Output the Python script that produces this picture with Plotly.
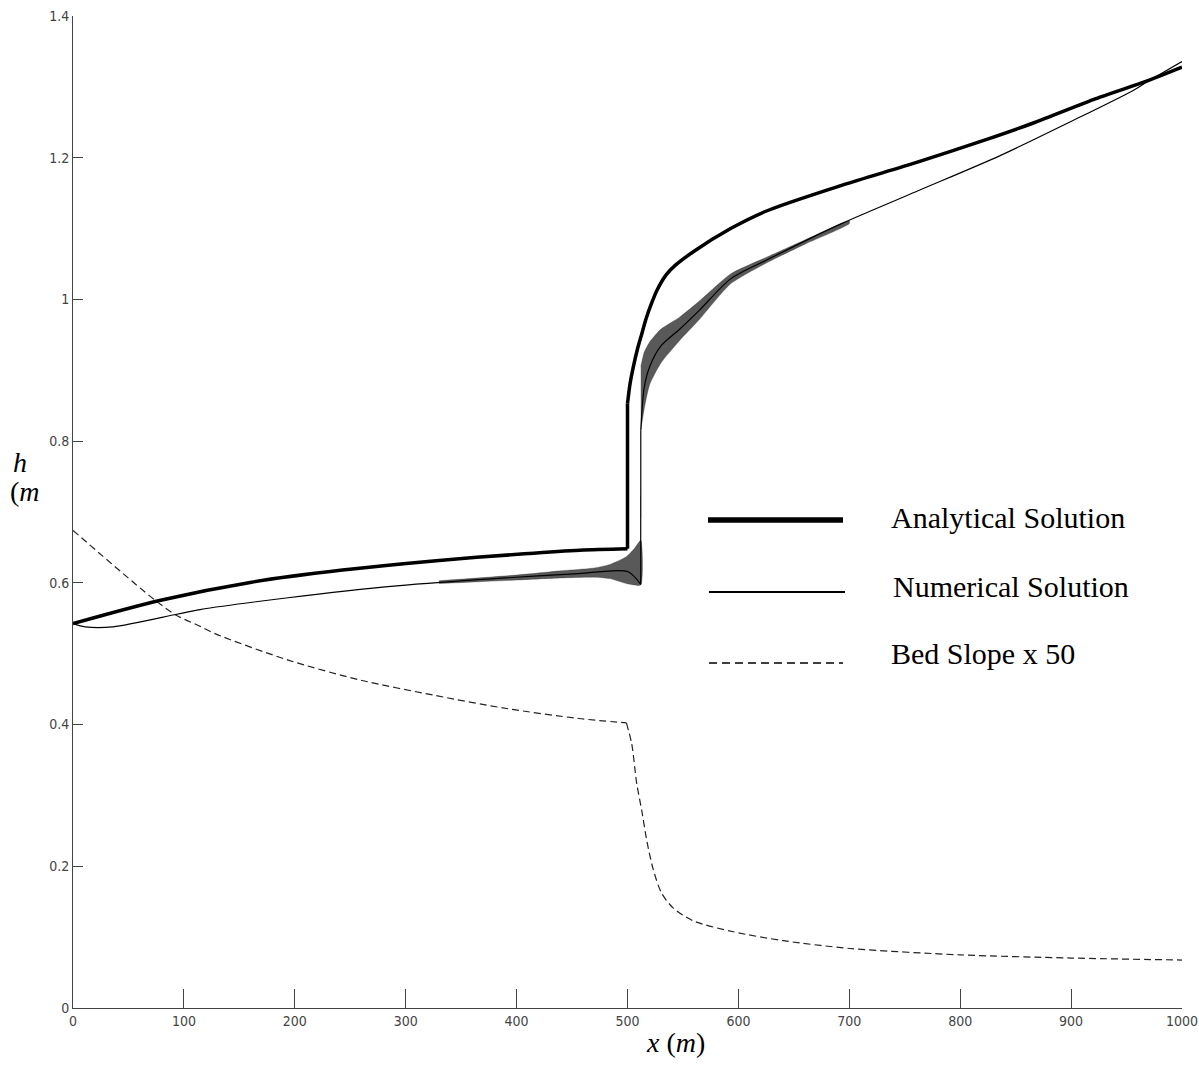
import plotly.graph_objects as go

# ---- data -------------------------------------------------------------
# Analytical solution h(x)
ana_x = [0, 79, 161, 243, 325, 407, 457, 500, 500, 502.3, 505.2, 509, 512.8,
         516.6, 521.8, 526.6, 535, 543, 560, 593, 626.5, 693, 760, 826, 866,
         926, 968, 1000]
ana_h = [0.5426, 0.5755, 0.601, 0.618, 0.631, 0.641, 0.646, 0.648, 0.853,
         0.881, 0.9045, 0.930, 0.951, 0.972, 0.995, 1.013, 1.035, 1.048,
         1.068, 1.100, 1.1255, 1.161, 1.193, 1.227, 1.249, 1.2854, 1.308,
         1.3277]
ana_breaks = [7, 8]          # vertical jump between these indices

# Numerical solution h(x), mean path
num_x = [0, 11, 36, 93.5, 114.5, 194, 292, 390, 456, 500, 511.9, 512, 515,
         520, 530, 547, 565, 593, 626, 693, 760, 836, 901.7, 956, 968, 1000]
num_h = [0.5426, 0.538, 0.538, 0.5557, 0.5623, 0.579, 0.5957, 0.607, 0.613,
         0.616, 0.598, 0.815, 0.875, 0.905, 0.934, 0.958, 0.985, 1.029,
         1.056, 1.107, 1.152, 1.203, 1.2525, 1.295, 1.3065, 1.3357]
num_breaks = [10, 11]

# Oscillation envelope of the numerical solution, upstream of the jump
osc_up_x = [330, 400, 440, 470, 484, 499, 506, 512]
osc_up_hi = [0.603, 0.611, 0.617, 0.621, 0.626, 0.637, 0.648, 0.660]
osc_up_lo = [0.599, 0.604, 0.607, 0.608, 0.606, 0.599, 0.597, 0.597]

# Oscillation envelope downstream of the jump
osc_dn_x = [512, 515, 520, 530, 547, 565, 593, 626, 660, 700]
osc_dn_hi = [0.905, 0.925, 0.940, 0.958, 0.975, 0.998, 1.036, 1.060, 1.084, 1.111]
osc_dn_lo = [0.815, 0.845, 0.880, 0.910, 0.942, 0.972, 1.022, 1.052, 1.078, 1.107]

# Bed slope scaled by 50
bed_x = [0, 74, 93.5, 114.5, 128.5, 194, 259.7, 325.2, 390.8, 456, 499,
         503.8, 508.3, 512.8, 517.3, 523.3, 530.8, 541.3, 559.3, 595.4,
         640.5, 700.6, 800, 900, 1000]
bed_h = [0.674, 0.5755, 0.554, 0.5388, 0.528, 0.491, 0.4626, 0.4415, 0.4227,
         0.4086, 0.4024, 0.373, 0.317, 0.279, 0.237, 0.195, 0.162, 0.141,
         0.123, 0.1076, 0.095, 0.084, 0.075, 0.0705, 0.0677]
bed_breaks = [10]

x_ticks = [0, 100, 200, 300, 400, 500, 600, 700, 800, 900, 1000]
x_tick_text = ["0", "100", "200", "300", "400", "500", "600", "700", "800", "900", "1000"]
y_ticks = [0, 0.2, 0.4, 0.6, 0.8, 1.0, 1.2, 1.4]
y_tick_text = ["0", "0.2", "0.4", "0.6", "0.8", "1", "1.2", "1.4"]

legend_names = ["Analytical Solution", "Numerical Solution", "Bed Slope x 50"]

# ---- layout geometry (pixels) ------------------------------------------
W, H = 1199, 1076
ML, MR, MT, MB = 73, 17, 16, 68
PW, PH = W - ML - MR, H - MT - MB


def px(xp):
    return (xp - ML) / PW


def py(yp):
    return (H - MB - yp) / PH


tick_font = dict(family="Liberation Sans Narrow, Arial Narrow, DejaVu Sans Condensed, sans-serif",
                 size=14, color="#444444")
serif = "Liberation Serif, Times New Roman, serif"

fig = go.Figure()


def add_series(xs, ys, breaks, line, name):
    """Draw a curve as smooth pieces, keeping the corners at the break indices sharp."""
    cuts = [0] + breaks + [len(xs) - 1]
    for a, b in zip(cuts[:-1], cuts[1:]):
        seg_x, seg_y = xs[a:b + 1], ys[a:b + 1]
        fig.add_trace(go.Scatter(
            x=seg_x, y=seg_y, mode="lines", name=name, showlegend=False,
            line=dict(line, shape="spline" if len(seg_x) > 2 else "linear", smoothing=0.8)))


# oscillation bands of the numerical scheme
for bx, hi, lo in [(osc_up_x, osc_up_hi, osc_up_lo), (osc_dn_x, osc_dn_hi, osc_dn_lo)]:
    fig.add_trace(go.Scatter(
        x=bx + bx[::-1], y=hi + lo[::-1], mode="lines", fill="toself",
        fillcolor="rgba(25,25,25,0.72)", line=dict(color="rgba(25,25,25,0.5)", width=0.6,
                                                  shape="spline", smoothing=0.6),
        hoverinfo="skip", showlegend=False))

add_series(bed_x, bed_h, bed_breaks, dict(color="#222222", width=1.2, dash="7px,4px"), legend_names[2])
add_series(num_x, num_h, num_breaks, dict(color="black", width=1.2), legend_names[1])
add_series(ana_x, ana_h, ana_breaks, dict(color="black", width=3.5), legend_names[0])

# hand-placed legend: sample line followed by label
legend_rows = [
    (708, 843, 520, dict(color="black", width=5.5), 889, 517),
    (709, 845, 592, dict(color="black", width=2), 891, 586),
    (709, 843, 663, dict(color="black", width=1.5, dash="8px,5px"), 889, 653),
]
for (x0, x1, yl, lstyle, xt, yt), name in zip(legend_rows, legend_names):
    fig.add_shape(type="line", xref="paper", yref="paper",
                  x0=px(x0), x1=px(x1), y0=py(yl), y1=py(yl), line=lstyle)
    fig.add_annotation(xref="paper", yref="paper", x=px(xt), y=py(yt),
                       xanchor="left", yanchor="middle", showarrow=False,
                       text=name, font=dict(family=serif, size=30, color="black"))

# axis titles
fig.add_annotation(xref="paper", yref="paper", x=px(675), y=py(1042),
                   xanchor="center", yanchor="middle", showarrow=False,
                   text="<i>x</i> (<i>m</i>)", font=dict(family=serif, size=28, color="black"))
fig.add_annotation(xref="paper", yref="paper", x=px(11), y=py(462),
                   xanchor="left", yanchor="middle", showarrow=False,
                   text="<i>h</i>", font=dict(family=serif, size=28, color="black"))
fig.add_annotation(xref="paper", yref="paper", x=px(8), y=py(491),
                   xanchor="left", yanchor="middle", showarrow=False,
                   text="(<i>m</i>", font=dict(family=serif, size=28, color="black"))

fig.update_layout(
    width=W, height=H,
    margin=dict(l=ML, r=MR, t=MT, b=MB, autoexpand=False),
    paper_bgcolor="white", plot_bgcolor="white",
    showlegend=False,
    xaxis=dict(range=[0, 1000], tickvals=x_ticks, ticktext=x_tick_text,
               ticks="inside", ticklen=19, tickwidth=1, tickcolor="#444444",
               showline=True, linecolor="#444444", linewidth=1, automargin=False,
               showgrid=False, zeroline=False, tickfont=tick_font),
    yaxis=dict(range=[0, 1.4], tickvals=y_ticks, ticktext=y_tick_text,
               ticks="inside", ticklen=10, tickwidth=1, tickcolor="#444444",
               showline=True, linecolor="#444444", linewidth=1, automargin=False,
               showgrid=False, zeroline=False, tickfont=tick_font),
)

fig.write_html("out.html")
